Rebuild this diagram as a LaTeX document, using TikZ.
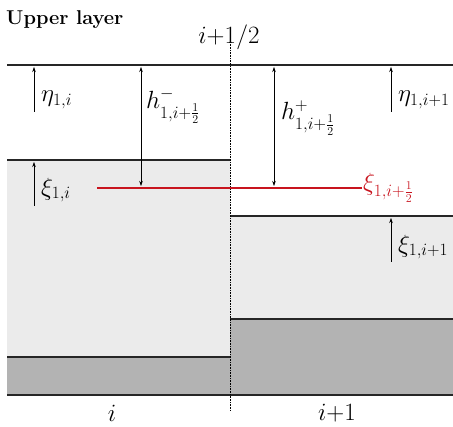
\documentclass[tikz,border=0pt]{standalone}
\usepackage{tikz}
\usetikzlibrary{positioning, arrows.meta}
\usepackage{amsmath}
\definecolor{cLight}{HTML}{EBEBEB}
\definecolor{cBed}{HTML}{B3B3B3}
\definecolor{cRed}{HTML}{C8141E}
\tikzset{
  level/.style={line width=1.1pt, color=black!85},
  redlevel/.style={line width=1.4pt, color=cRed},
  uparrow/.style={-{Stealth[length=5pt, width=3.5pt]}, line width=0.5pt},
  bothways/.style={{Stealth[length=5pt, width=3.5pt]}-{Stealth[length=5pt, width=3.5pt]}, line width=0.5pt},
  lbl/.style={font=\fontsize{25}{28}\selectfont, anchor=west, inner sep=1pt},
  cellname/.style={font=\fontsize{25}{28}\selectfont, inner sep=1pt},
}
\begin{document}
\begin{tikzpicture}[x=1pt, y=-1pt]
  \useasboundingbox (0,0) rectangle (453,427);

  % water column and bed
  \fill[cLight] (7,160) rectangle (230,357);
  \fill[cLight] (230,216) rectangle (453,319);
  \fill[cBed] (7,357) rectangle (230,395);
  \fill[cBed] (230,319) rectangle (453,395);

  \draw[level] (7,65) -- (453,65);
  \draw[level] (7,160) -- (230,160);
  \draw[level] (230,216) -- (453,216);
  \draw[level] (7,357) -- (230,357);
  \draw[level] (230,319) -- (453,319);
  \draw[level] (7,395) -- (453,395);

  % cell interface
  \coordinate (ifTop) at (230,42);
  \coordinate (ifBot) at (230,411);
  \draw[densely dotted, line width=0.6pt] (ifTop) -- (ifBot);

  % reconstructed interface level
  \coordinate (redL) at (97,188);
  \coordinate (redR) at (362,188);
  \draw[redlevel] (redL) -- (redR);
  \node[lbl, text=cRed] (xiHalf) at (redR) {$\xi_{1,i+\frac{1}{2}}$};

  % left cell
  \coordinate (etaLa) at (34,112);
  \coordinate (etaLb) at (34,67);
  \draw[uparrow] (etaLa) -- (etaLb);
  \node[lbl] (etaL) at (40,100) {$\eta_{1,i}$};

  \coordinate (xiLa) at (34,206);
  \coordinate (xiLb) at (34,162);
  \draw[uparrow] (xiLa) -- (xiLb);
  \node[lbl] (xiL) at (40,190) {$\xi_{1,i}$};

  \coordinate (hmTop) at (141,67);
  \coordinate (hmBot) at (141,186);
  \draw[bothways] (hmTop) -- (hmBot);
  \node[lbl] (hMinus) at (145,106) {$h^{-}_{1,i+\frac{1}{2}}$};

  % right cell
  \coordinate (hpTop) at (274,67);
  \coordinate (hpBot) at (274,186);
  \draw[bothways] (hpTop) -- (hpBot);
  \node[lbl] (hPlus) at (280,118) {$h^{+}_{1,i+\frac{1}{2}}$};

  \coordinate (etaRa) at (391,112);
  \coordinate (etaRb) at (391,67);
  \draw[uparrow] (etaRa) -- (etaRb);
  \node[lbl] (etaR) at (397,100) {$\eta_{1,i+1}$};

  \coordinate (xiRa) at (391,262);
  \coordinate (xiRb) at (391,218);
  \draw[uparrow] (xiRa) -- (xiRb);
  \node[lbl] (xiR) at (397,247) {$\xi_{1,i+1}$};

  % titles
  \node[font=\fontsize{20}{24}\selectfont\bfseries, anchor=west, inner sep=0pt] (upper) at (6,20) {Upper layer};
  \node[cellname] (half) at (229,37) {$i{+}1/2$};
  \node[cellname] (cellL) at (112,413) {$i$};
  \node[cellname] (cellR) at (337,413) {$i{+}1$};
\end{tikzpicture}
\end{document}
